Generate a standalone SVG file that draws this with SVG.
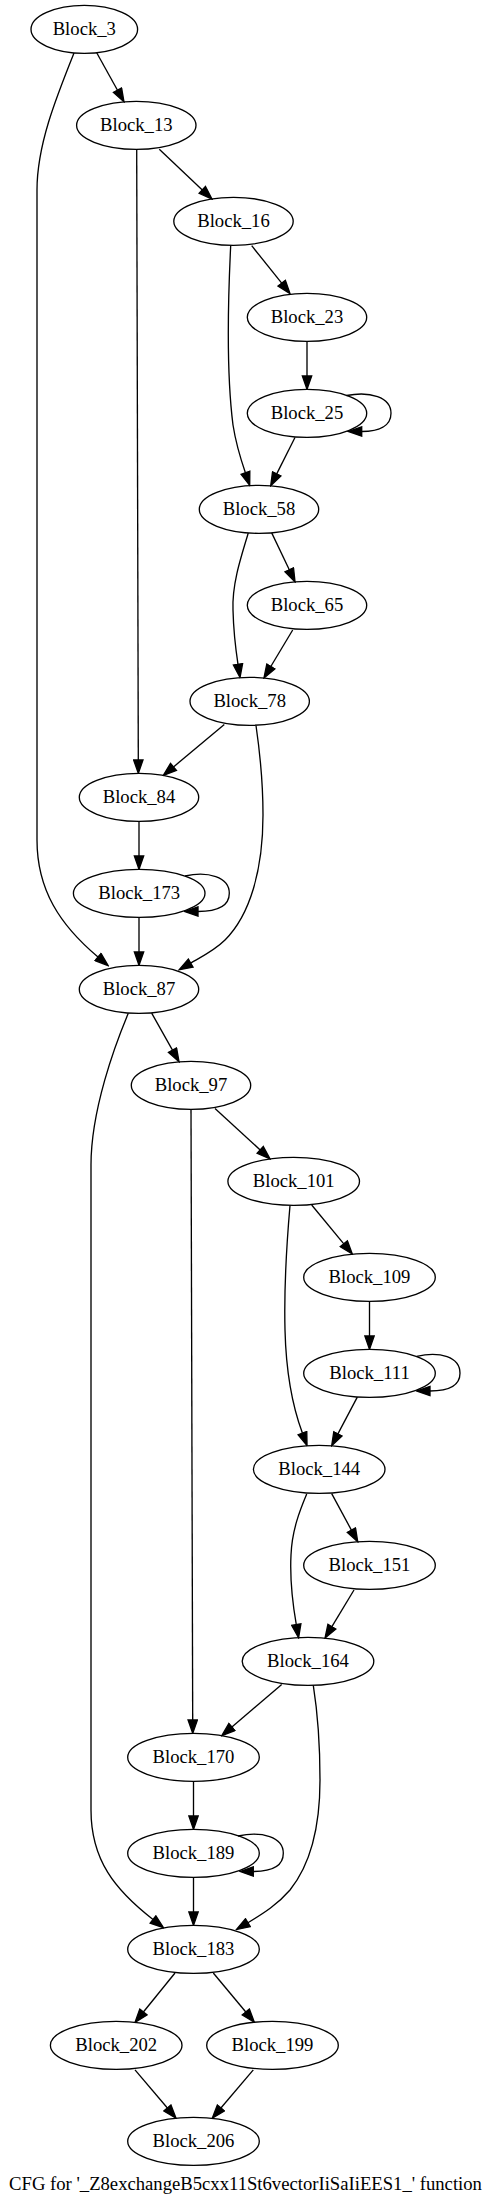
<svg xmlns="http://www.w3.org/2000/svg" width="491" height="2201" viewBox="0 0 491 2201">
<style>
.n ellipse{fill:none;stroke:#000;stroke-width:1.33}
.n text,.t{font-family:"Liberation Serif","Times New Roman",serif;font-size:18.67px;text-anchor:middle;fill:#000}
#edges path{fill:none;stroke:#000;stroke-width:1.33;marker-end:url(#ah)}
</style>
<defs>
<marker id="ah" viewBox="-1 -1 15.33 11.33" refX="0" refY="4.67" markerWidth="15.33" markerHeight="11.33" markerUnits="userSpaceOnUse" orient="auto">
<path d="M0,0 L13.33,4.67 L0,9.33 Z" fill="#000" stroke="#000" stroke-width="1.33"/>
</marker>
</defs>
<rect width="491" height="2201" fill="#fff"/>
<g id="edges">
<path d="M96.7,52.7 L117.5,90.2"/>
<path d="M74,53 C56,98 37,145 37,190 L37,840 C37,890 60,925 98,957"/>
<path d="M136.7,149.3 L138.3,760"/>
<path d="M159.3,149.3 L202.3,189.9"/>
<path d="M230.7,245.5 C228.5,290 226,370 233,425 C235.5,441 240,457 245.4,472.8"/>
<path d="M251.7,245.7 L281.7,283.2"/>
<path d="M307,341.3 L307,376"/>
<path d="M346.5,395.5 C370,391 391,397 391,413.3 C391,426 379,431.5 361.7,431.5"/>
<path d="M295,437.5 L276.7,473.9"/>
<path d="M271.7,532.9 L289.3,569.8"/>
<path d="M248.3,533 C240,560 232,585 233,610 C233.5,630 235.5,648 238,664.3"/>
<path d="M292.7,630 L270.8,666.5"/>
<path d="M224.3,724.6 L173.5,766.9"/>
<path d="M256,725.5 C261,760 263,790 263,815 C263,870 250,915 225,940 C215,950 203,956 190.7,963.1"/>
<path d="M139,821.3 L139,856"/>
<path d="M185,876 C208,871 229.3,877 229.3,893.3 C229.3,906 218,911.5 198,911.5"/>
<path d="M139,917.3 L139,952"/>
<path d="M128.3,1013.3 C115,1045 91,1110 91,1165 L91,1810 C91,1860 115,1890 153,1919.5"/>
<path d="M151.7,1013.2 L172.5,1050.2"/>
<path d="M191,1109.3 L192.7,1720"/>
<path d="M215,1108.6 L260.2,1149.9"/>
<path d="M290,1205.5 C287,1240 284,1290 285,1330 C286,1370 292,1405 302.4,1433.1"/>
<path d="M311.7,1205 L343.8,1243.8"/>
<path d="M369.5,1301.3 L369.5,1336"/>
<path d="M416.7,1356.3 C440,1351 460,1357 460,1373.3 C460,1386 449,1391 430,1391"/>
<path d="M357.3,1397.1 L337.9,1433.9"/>
<path d="M331.7,1493.6 L351.4,1530.1"/>
<path d="M306.7,1494 C300,1510 292,1530 291,1555 C290,1575 292,1600 296.3,1624.6"/>
<path d="M354,1590 L331.9,1626.7"/>
<path d="M281.7,1684.6 L231.9,1727"/>
<path d="M313.3,1685.3 C318,1715 320,1745 320,1780 C320,1830 310,1865 290,1890 C278,1904 264,1913 247.9,1922.7"/>
<path d="M193.5,1781.3 L193.5,1816"/>
<path d="M238,1836 C262,1831 283.3,1837 283.3,1853.3 C283.3,1866 272,1871.5 253.3,1871.5"/>
<path d="M193.5,1877.3 L193.5,1912"/>
<path d="M175,1973 L143.4,2012"/>
<path d="M213.3,1973 L245.8,2012"/>
<path d="M135,2069.9 L167.4,2108"/>
<path d="M253.3,2069.9 L220.9,2108"/>
</g>
<g id="Block_3" class="n"><ellipse cx="84.3" cy="29.33" rx="53.3" ry="24"/><text x="84.3" y="35">Block_3</text></g>
<g id="Block_13" class="n"><ellipse cx="136.3" cy="125.33" rx="59.7" ry="24"/><text x="136.3" y="131">Block_13</text></g>
<g id="Block_16" class="n"><ellipse cx="233.5" cy="221.33" rx="59.7" ry="24"/><text x="233.5" y="227">Block_16</text></g>
<g id="Block_23" class="n"><ellipse cx="307" cy="317.33" rx="59.7" ry="24"/><text x="307" y="323">Block_23</text></g>
<g id="Block_25" class="n"><ellipse cx="307" cy="413.33" rx="59.7" ry="24"/><text x="307" y="419">Block_25</text></g>
<g id="Block_58" class="n"><ellipse cx="259" cy="509.33" rx="59.7" ry="24"/><text x="259" y="515">Block_58</text></g>
<g id="Block_65" class="n"><ellipse cx="307" cy="605.33" rx="59.7" ry="24"/><text x="307" y="611">Block_65</text></g>
<g id="Block_78" class="n"><ellipse cx="249.7" cy="701.33" rx="59.7" ry="24"/><text x="249.7" y="707">Block_78</text></g>
<g id="Block_84" class="n"><ellipse cx="139" cy="797.33" rx="59.7" ry="24"/><text x="139" y="803">Block_84</text></g>
<g id="Block_173" class="n"><ellipse cx="139.2" cy="893.33" rx="65.8" ry="24"/><text x="139.2" y="899">Block_173</text></g>
<g id="Block_87" class="n"><ellipse cx="139" cy="989.33" rx="59.7" ry="24"/><text x="139" y="995">Block_87</text></g>
<g id="Block_97" class="n"><ellipse cx="191" cy="1085.33" rx="59.7" ry="24"/><text x="191" y="1091">Block_97</text></g>
<g id="Block_101" class="n"><ellipse cx="293.7" cy="1181.33" rx="65.8" ry="24"/><text x="293.7" y="1187">Block_101</text></g>
<g id="Block_109" class="n"><ellipse cx="369.5" cy="1277.33" rx="65.8" ry="24"/><text x="369.5" y="1283">Block_109</text></g>
<g id="Block_111" class="n"><ellipse cx="369.5" cy="1373.33" rx="65.8" ry="24"/><text x="369.5" y="1379">Block_111</text></g>
<g id="Block_144" class="n"><ellipse cx="319.2" cy="1469.33" rx="65.8" ry="24"/><text x="319.2" y="1475">Block_144</text></g>
<g id="Block_151" class="n"><ellipse cx="369.5" cy="1565.33" rx="65.8" ry="24"/><text x="369.5" y="1571">Block_151</text></g>
<g id="Block_164" class="n"><ellipse cx="308" cy="1661.33" rx="65.8" ry="24"/><text x="308" y="1667">Block_164</text></g>
<g id="Block_170" class="n"><ellipse cx="193.5" cy="1757.33" rx="65.8" ry="24"/><text x="193.5" y="1763">Block_170</text></g>
<g id="Block_189" class="n"><ellipse cx="193.5" cy="1853.33" rx="65.8" ry="24"/><text x="193.5" y="1859">Block_189</text></g>
<g id="Block_183" class="n"><ellipse cx="193.5" cy="1949.33" rx="65.8" ry="24"/><text x="193.5" y="1955">Block_183</text></g>
<g id="Block_202" class="n"><ellipse cx="116.2" cy="2045.33" rx="65.8" ry="24"/><text x="116.2" y="2051">Block_202</text></g>
<g id="Block_199" class="n"><ellipse cx="272.5" cy="2045.33" rx="65.8" ry="24"/><text x="272.5" y="2051">Block_199</text></g>
<g id="Block_206" class="n"><ellipse cx="193.5" cy="2141.33" rx="65.8" ry="24"/><text x="193.5" y="2147">Block_206</text></g>
<text class="t" x="245.5" y="2190">CFG for '_Z8exchangeB5cxx11St6vectorIiSaIiEES1_' function</text>
</svg>
